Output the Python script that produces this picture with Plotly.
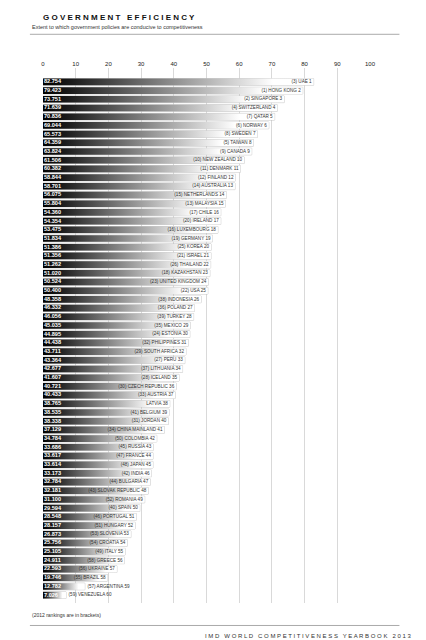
import plotly.graph_objects as go

countries = ["UAE", "HONG KONG", "SINGAPORE", "SWITZERLAND", "QATAR", "NORWAY", "SWEDEN", "TAIWAN",
             "CANADA", "NEW ZEALAND", "DENMARK", "FINLAND", "AUSTRALIA", "NETHERLANDS", "MALAYSIA",
             "CHILE", "IRELAND", "LUXEMBOURG", "GERMANY", "KOREA", "ISRAEL", "THAILAND", "KAZAKHSTAN",
             "UNITED KINGDOM", "USA", "INDONESIA", "POLAND", "TURKEY", "MEXICO", "ESTONIA", "PHILIPPINES",
             "SOUTH AFRICA", "PERU", "LITHUANIA", "ICELAND", "CZECH REPUBLIC", "AUSTRIA", "LATVIA",
             "BELGIUM", "JORDAN", "CHINA MAINLAND", "COLOMBIA", "RUSSIA", "FRANCE", "JAPAN", "INDIA",
             "BULGARIA", "SLOVAK REPUBLIC", "ROMANIA", "SPAIN", "PORTUGAL", "HUNGARY", "SLOVENIA",
             "CROATIA", "ITALY", "GREECE", "UKRAINE", "BRAZIL", "ARGENTINA", "VENEZUELA"]
scores = [82.754, 79.423, 73.751, 71.639, 70.836, 69.044, 65.573, 64.359, 63.824, 61.506, 60.382,
          58.844, 58.701, 56.075, 55.804, 54.360, 54.354, 53.475, 51.834, 51.386, 51.356, 51.262,
          51.020, 50.524, 50.400, 48.358, 46.332, 46.056, 45.035, 44.895, 44.438, 43.711, 43.364,
          42.677, 41.607, 40.721, 40.433, 38.765, 38.535, 38.338, 37.129, 34.784, 33.686, 33.617,
          33.614, 33.173, 32.784, 32.181, 31.100, 29.594, 28.548, 28.157, 26.873, 25.756, 25.105,
          24.911, 22.593, 19.746, 12.782, 7.026]
rank_2012 = [3, 1, 2, 4, 7, 6, 8, 5, 9, 10, 11, 12, 14, 15, 13, 17, 20, 16, 19, 25, 21, 26, 18, 23,
             22, 38, 36, 39, 35, 24, 32, 29, 27, 37, 28, 30, 33, None, 41, 31, 34, 50, 45, 47, 48,
             42, 44, 43, 52, 40, 46, 51, 53, 54, 49, 58, 56, 55, 57, 59]

ranks = list(range(1, len(countries) + 1))
labels = []
for c, r, old in zip(countries, ranks, rank_2012):
    if old is None:
        labels.append(f"{c} {r}")
    else:
        labels.append(f"({old}) {c} {r}")

fig = go.Figure()
h = 0.38
for r, v in zip(ranks, scores):
    fig.add_trace(go.Scatter(
        x=[0, v, v, 0, 0], y=[r - h, r - h, r + h, r + h, r - h],
        fill="toself", mode="lines", line=dict(width=0),
        fillgradient=dict(type="horizontal", start=0, stop=v * 0.85,
                          colorscale=[[0, "#000000"], [0.12, "#1a1a1a"], [1, "#ffffff"]]),
        hoverinfo="skip", showlegend=False))

# outline of each bar
fig.add_trace(go.Bar(
    x=scores, y=ranks, orientation="h", width=0.76,
    marker=dict(color="rgba(0,0,0,0)", line=dict(color="#bdbdbd", width=0.8)),
    hoverinfo="skip", showlegend=False))

# country labels: inside right end of bar, outside for the shortest bars
inside = [v >= 15 for v in scores]
fig.add_trace(go.Scatter(
    x=[v - 0.6 if ok else v + 0.8 for v, ok in zip(scores, inside)], y=ranks, mode="text",
    text=labels,
    textposition=["middle left" if ok else "middle right" for ok in inside],
    textfont=dict(size=4.6, color="#333333", family="Liberation Sans"),
    cliponaxis=False, hoverinfo="skip", showlegend=False))

fig.add_trace(go.Scatter(
    x=[0.3] * len(scores), y=ranks, mode="text",
    text=[f"<b>{v:.3f}</b>" for v in scores], textposition="middle right",
    textfont=dict(size=5.6, color="white", family="Liberation Sans"),
    hoverinfo="skip", showlegend=False))

fig.update_layout(
    width=426, height=640,
    margin=dict(l=35, r=64, t=60, b=45),
    paper_bgcolor="white", plot_bgcolor="white",
    font=dict(family="Liberation Sans", color="#222222"),
    xaxis=dict(side="top", range=[0, 100], dtick=10, showgrid=True, gridcolor="#d9d9d9",
               gridwidth=1, zeroline=False, tickfont=dict(size=6, color="#222222"),
               ticks="", showline=False, fixedrange=True),
    yaxis=dict(range=[len(countries) + 0.9, -0.6], visible=False),
)

fig.add_annotation(text="<b>G O V E R N M E N T   E F F I C I E N C Y</b>", xref="paper", yref="paper",
                   x=-0.005, y=1.095, xanchor="left", yanchor="middle", showarrow=False,
                   font=dict(size=8, color="#111111"))
fig.add_annotation(text="Extent to which government policies are conducive to competitiveness",
                   xref="paper", yref="paper", x=-0.04, y=1.076, xanchor="left", yanchor="middle",
                   showarrow=False, font=dict(size=5.5, color="#333333"))
fig.add_annotation(text="(2012 rankings are in brackets)", xref="paper", yref="paper",
                   x=-0.04, y=-0.022, xanchor="left", yanchor="middle", showarrow=False,
                   font=dict(size=5, color="#333333"))
fig.add_annotation(text="I M D   W O R L D   C O M P E T I T I V E N E S S   Y E A R B O O K   2 0 1 3",
                   xref="paper", yref="paper", x=1.13, y=-0.062, xanchor="right", yanchor="middle",
                   showarrow=False, font=dict(size=6, color="#333333"))
fig.add_shape(type="line", xref="paper", yref="paper", x0=-0.04, x1=1.09, y0=1.063, y1=1.063,
              line=dict(color="#aaaaaa", width=1))
fig.add_shape(type="line", xref="paper", yref="paper", x0=-0.04, x1=1.09, y0=-0.042, y1=-0.042,
              line=dict(color="#aaaaaa", width=1))

fig.write_html("out.html")
